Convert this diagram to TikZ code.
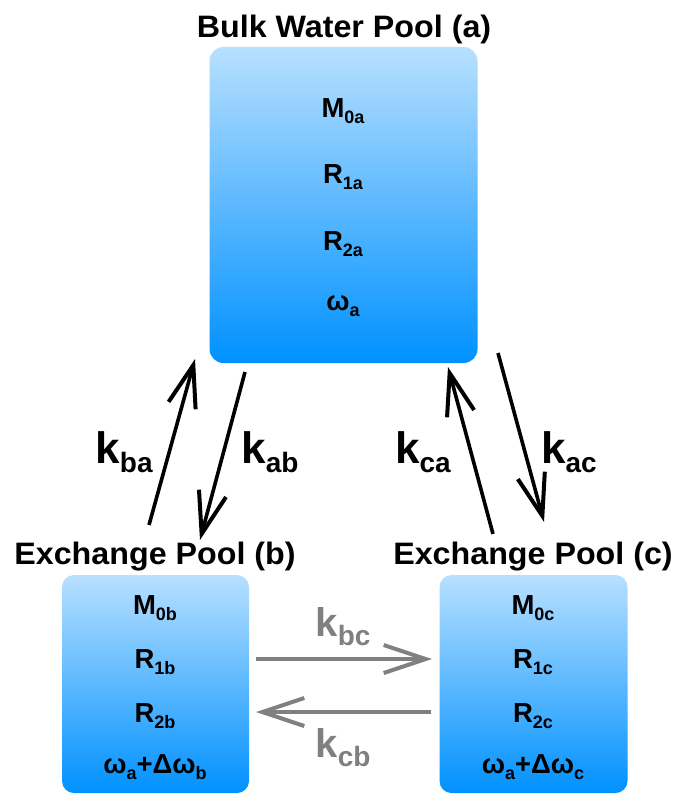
\documentclass[tikz,border=0pt]{standalone}
\usepackage{fontspec}
\setmainfont{Liberation Sans}
\usetikzlibrary{arrows.meta}
\definecolor{boxtop}{RGB}{184,224,255}
\definecolor{boxbot}{RGB}{0,145,255}
\definecolor{kgray}{RGB}{128,128,128}
\newcommand\vsub[1]{\raisebox{-6pt}{\fontsize{18}{18}\selectfont #1}}
\newcommand\ksub[1]{\raisebox{-9pt}{\fontsize{28}{28}\selectfont #1}}
\newcommand\wide[1]{\scalebox{1.04}[1]{#1}}
\tikzset{
  pool/.style={rounded corners=14pt, top color=boxtop, bottom color=boxbot, draw=none, inner sep=0, outer sep=0},
  title/.style={font=\fontsize{31}{34}\selectfont\bfseries, anchor=base, inner sep=0},
  val/.style={font=\fontsize{27.5}{30}\selectfont\bfseries, anchor=base, inner sep=0},
  klab/.style={font=\fontsize{44}{48}\selectfont\bfseries, anchor=base, inner sep=0},
  glab/.style={font=\fontsize{40}{44}\selectfont\bfseries, anchor=base, inner sep=0, text=kgray},
  karrow/.style={line width=3.6pt, -{Straight Barb[length=42pt, width=28pt, line width=4pt]}},
  garrow/.style={line width=4pt, draw=kgray, -{Straight Barb[length=42pt, width=28pt, line width=4pt]}}
}
\begin{document}
\begin{tikzpicture}[x=1pt, y=-1pt]
\useasboundingbox (0,0) rectangle (678,794);
% boxes
\node[pool, minimum width=268pt, minimum height=316pt] (A) at (343.5,205) {};
\node[pool, rounded corners=12pt, minimum width=187pt, minimum height=218pt] (B) at (155.5,684) {};
\node[pool, rounded corners=12pt, minimum width=188pt, minimum height=218pt] (C) at (533.5,684) {};
% titles
\node[title] (tA) at (344,38) {\wide{Bulk Water Pool (a)}};
\node[title] (tB) at (155,564) {\wide{Exchange Pool (b)}};
\node[title] (tC) at (533,564) {\wide{Exchange Pool (c)}};
% values A
\node[val] (a1) at (343,118) {M\vsub{0a}};
\node[val] (a2) at (343,184) {R\vsub{1a}};
\node[val] (a3) at (343,250) {R\vsub{2a}};
\node[val] (a4) at (343,310) {ω\vsub{a}};
% values B
\node[val] (b1) at (155,614) {M\vsub{0b}};
\node[val] (b2) at (155,668) {R\vsub{1b}};
\node[val] (b3) at (155,722) {R\vsub{2b}};
\node[val] (b4) at (155,773) {ω\vsub{a}+Δω\vsub{b}};
% values C
\node[val] (c1) at (533,614) {M\vsub{0c}};
\node[val] (c2) at (533,668) {R\vsub{1c}};
\node[val] (c3) at (533,722) {R\vsub{2c}};
\node[val] (c4) at (533,773) {ω\vsub{a}+Δω\vsub{c}};
% arrow end points
\coordinate (pba0) at (149,525);
\coordinate (pba1) at (195,359);
\coordinate (pab0) at (245,372);
\coordinate (pab1) at (200,540);
\coordinate (pca0) at (493,534);
\coordinate (pca1) at (448,367);
\coordinate (pac0) at (498,353);
\coordinate (pac1) at (544,522);
\coordinate (pbc0) at (256,659);
\coordinate (pbc1) at (432,659);
\coordinate (pcb0) at (431,712);
\coordinate (pcb1) at (256,712);
\draw[karrow] (pba0) -- (pba1);
\draw[karrow] (pab0) -- (pab1);
\draw[karrow] (pca0) -- (pca1);
\draw[karrow] (pac0) -- (pac1);
\draw[garrow] (pbc0) -- (pbc1);
\draw[garrow] (pcb0) -- (pcb1);
% rate labels
\node[klab] (kba) at (124,463) {k\ksub{ba}};
\node[klab] (kab) at (270,463) {k\ksub{ab}};
\node[klab] (kca) at (423,463) {k\ksub{ca}};
\node[klab] (kac) at (569,463) {k\ksub{ac}};
\node[glab] (kbc) at (343,636) {k\ksub{bc}};
\node[glab] (kcb) at (343,757) {k\ksub{cb}};
\end{tikzpicture}
\end{document}
